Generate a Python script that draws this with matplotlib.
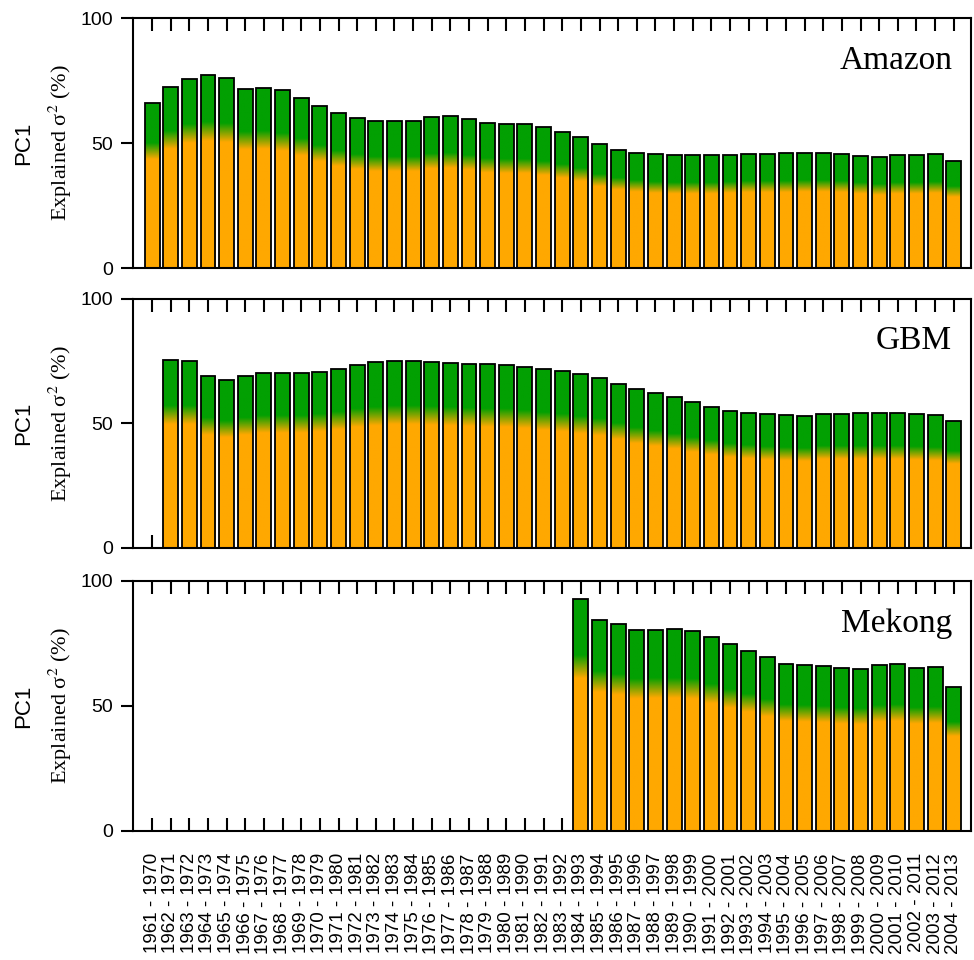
import numpy as np
import matplotlib
matplotlib.use("Agg")
import matplotlib.pyplot as plt
from matplotlib.colors import LinearSegmentedColormap

plt.rcParams['font.family'] = ['Liberation Sans', 'DejaVu Sans']
plt.rcParams['mathtext.fontset'] = 'stix'

# 10-year moving windows
periods = ["1961 - 1970", "1962 - 1971", "1963 - 1972", "1964 - 1973", "1965 - 1974",
           "1966 - 1975", "1967 - 1976", "1968 - 1977", "1969 - 1978", "1970 - 1979",
           "1971 - 1980", "1972 - 1981", "1973 - 1982", "1974 - 1983", "1975 - 1984",
           "1976 - 1985", "1977 - 1986", "1978 - 1987", "1979 - 1988", "1980 - 1989",
           "1981 - 1990", "1982 - 1991", "1983 - 1992", "1984 - 1993", "1985 - 1994",
           "1986 - 1995", "1987 - 1996", "1988 - 1997", "1989 - 1998", "1990 - 1999",
           "1991 - 2000", "1992 - 2001", "1993 - 2002", "1994 - 2003", "1995 - 2004",
           "1996 - 2005", "1997 - 2006", "1998 - 2007", "1999 - 2008", "2000 - 2009",
           "2001 - 2010", "2002 - 2011", "2003 - 2012", "2004 - 2013"]

# PC1 explained variance (%) per window, None = no data
amazon = [65.9, 72.3, 75.7, 77.1, 76.2, 71.8, 72.1, 71.1, 68.2, 64.8,
          61.9, 60.0, 58.8, 58.8, 58.8, 60.4, 60.7, 59.6, 58.0, 57.6,
          57.5, 56.4, 54.5, 52.5, 49.6, 47.3, 46.1, 45.6, 45.1, 45.1,
          45.1, 45.3, 45.7, 45.8, 46.0, 46.1, 46.1, 45.7, 44.9, 44.4,
          45.1, 45.2, 45.6, 42.9]
gbm = [None, 75.3, 75.2, 68.9, 67.3, 69.0, 70.2, 70.2, 70.2, 70.8,
       71.9, 73.6, 74.5, 75.1, 75.1, 74.8, 74.4, 74.0, 73.8, 73.6,
       72.7, 71.7, 70.9, 69.7, 68.4, 65.9, 63.8, 62.1, 60.5, 58.5,
       56.7, 55.2, 54.3, 53.6, 53.2, 53.0, 53.9, 53.9, 54.0, 54.0,
       54.1, 53.8, 53.2, 51.1]
mekong = [None] * 23 + [92.8, 84.3, 82.7, 80.3, 80.5, 80.6, 80.1, 77.6, 74.6, 72.1,
                        69.4, 66.8, 66.2, 66.0, 65.2, 64.6, 66.4, 66.6, 65.2, 65.6,
                        57.5]

rivers = ["Amazon", "GBM", "Mekong"]
series = [amazon, gbm, mekong]

# orange at the base of each bar, fading into green near the top
cmap = LinearSegmentedColormap.from_list(
    "og", [(0.0, "#FFA800"), (0.66, "#FFA800"), (0.76, "#02A002"), (1.0, "#02A002")])
grad = np.linspace(0, 1, 256).reshape(-1, 1)

fig = plt.figure(figsize=(9.74, 9.6), dpi=100)
boxes = [[0.1366, 0.7208, 0.8608, 0.2604],
         [0.1366, 0.4292, 0.8608, 0.2594],
         [0.1366, 0.1344, 0.8608, 0.2604]]

for k, (name, values) in enumerate(zip(rivers, series)):
    ax = fig.add_axes(boxes[k])
    ax.set_axisbelow(True)
    xs = [i for i, v in enumerate(values) if v is not None]
    hs = [v for v in values if v is not None]
    bars = ax.bar(xs, hs, width=0.8, facecolor="none", edgecolor="black",
                  linewidth=1.3, zorder=2)
    for rect in bars:
        x0, w, h = rect.get_x(), rect.get_width(), rect.get_height()
        im = ax.imshow(grad, cmap=cmap, origin="lower", aspect="auto",
                       extent=[x0, x0 + w, 0, h], zorder=1.5,
                       interpolation="bilinear")
        im.set_clip_path(rect)

    ax.set_xlim(-1.02, 43.95)
    ax.set_ylim(0, 100)
    ax.set_yticks([0, 50, 100])
    ax.set_xticks(range(len(periods)))
    for s in ax.spines.values():
        s.set_linewidth(1.5)
    ax.tick_params(axis="x", direction="in", top=True, bottom=True,
                   length=9.5, width=1.5)
    ax.tick_params(axis="y", direction="out", length=8.5, width=1.5,
                   labelsize=14, pad=6)
    if k == 2:
        ax.set_xticklabels(periods, rotation=90, fontsize=13.5)
        ax.tick_params(axis="x", pad=16)
    else:
        ax.set_xticklabels([])

    ax.text(0.977, 0.797, name, transform=ax.transAxes, ha="right",
            va="baseline", fontsize=24, family="Liberation Serif")
    ax.text(-0.131, 0.5, "PC1", transform=ax.transAxes, rotation=90,
            ha="center", va="center", fontsize=16)
    ax.text(-0.087, 0.5, "Explained σ$^{2}$ (%)", transform=ax.transAxes,
            rotation=90, ha="center", va="center", fontsize=16,
            family="Liberation Serif")

fig.savefig("out.png", dpi=100)
